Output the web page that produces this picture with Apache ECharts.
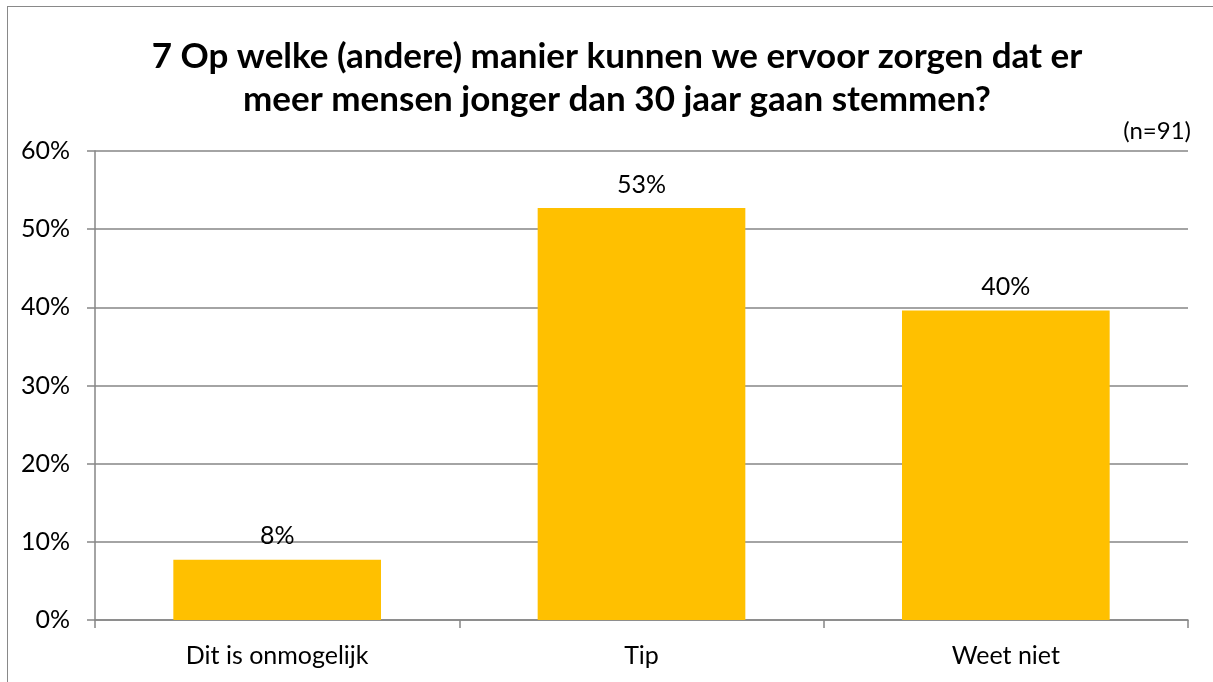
<!DOCTYPE html>
<html>
<head>
<meta charset="utf-8">
<script src="https://cdn.jsdelivr.net/npm/echarts@6/dist/echarts.min.js"></script>
<style>
	html, body { margin: 0; padding: 0; background: #fff; overflow: hidden; }
	.frame {
		position: absolute;
		left: 7px;
		top: 6px;
		width: 1300px;
		height: 800px;
		border: 1px solid #898989;
	}
	#chart { position: absolute; left: 0; top: 0; width: 1213px; height: 682px; }
</style>
</head>
<body>
<div class="frame"></div>
<div id="chart"></div>
<script>
	// categorieën en percentages (n=91)
	const categories = ["Dit is onmogelijk", "Tip", "Weet niet"];
	const values = [7.7, 52.7, 39.6];
	const titleText = "7 Op welke (andere) manier kunnen we ervoor zorgen dat er\nmeer mensen jonger dan 30 jaar gaan stemmen?";
	const noteText = "(n=91)";

	const font = "Lato, 'Open Sans', sans-serif";
	const chart = echarts.init(document.getElementById("chart"));

	chart.setOption({
		animation: false,
		title: [
			{
				text: titleText,
				left: 612,
				top: 30,
				textAlign: "center",
				textStyle: {
					fontFamily: font,
					fontSize: 35,
					fontWeight: "bold",
					color: "#000",
					lineHeight: 43,
				},
			},
			{
				text: noteText,
				right: 17,
				top: 114,
				textStyle: {
					fontFamily: font,
					fontSize: 24,
					fontWeight: "normal",
					color: "#000",
				},
			},
		],
		grid: { left: 95, right: 25, top: 151, bottom: 62 },
		xAxis: {
			type: "category",
			data: categories,
			axisLine: { lineStyle: { color: "#868686", width: 1.5 } },
			axisTick: { show: true, length: 8, alignWithLabel: false, lineStyle: { color: "#868686", width: 1.5 } },
			axisLabel: { fontFamily: font, fontSize: 25, color: "#000", margin: 23 },
		},
		yAxis: {
			type: "value",
			min: 0,
			max: 60,
			interval: 10,
			axisLine: { show: true, lineStyle: { color: "#868686", width: 1.5 } },
			axisTick: { show: true, length: 8, lineStyle: { color: "#868686", width: 1.5 } },
			axisLabel: {
				fontFamily: font,
				fontSize: 25,
				color: "#000",
				margin: 25,
				formatter: "{value}%",
			},
			splitLine: { lineStyle: { color: "#868686", width: 1.5 } },
		},
		series: [
			{
				type: "bar",
				data: values,
				barCategoryGap: "43%",
				itemStyle: { color: "#FFC000" },
				label: {
					show: true,
					position: "top",
					distance: 11,
					fontFamily: font,
					fontSize: 25,
					color: "#000",
					formatter: (p) => Math.round(p.value) + "%",
				},
			},
		],
	});
</script>
</body>
</html>
